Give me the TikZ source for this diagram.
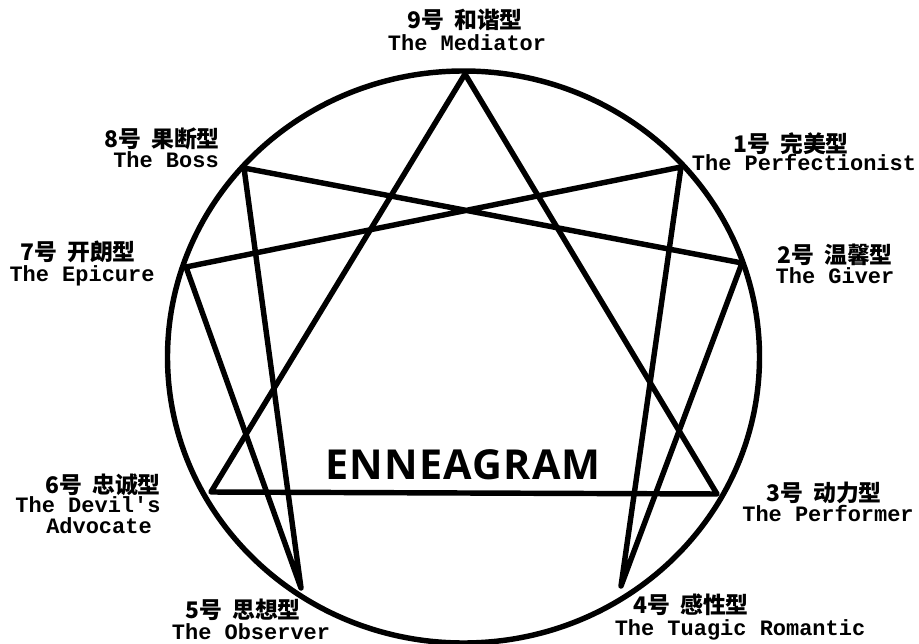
\documentclass[tikz,border=0pt]{standalone}
\usepackage{fontspec}
\setmonofont{Liberation Mono}
\setsansfont{Open Sans}
\newfontfamily\cjkfont{Noto Sans CJK SC}
\newfontfamily\judulfont{Open Sans}[LetterSpace=3]
\tikzset{
  garis/.style={line width=3.1pt, line join=round, line cap=round},
  tipe/.style={font=\cjkfont\bfseries\fontsize{13}{15}\selectfont, inner sep=0pt, text height=10.5pt, text depth=1.5pt},
  nama/.style={font=\ttfamily\bfseries\fontsize{12.5}{14}\selectfont, inner sep=0pt, text height=8pt, text depth=2pt},
}
\newcommand{\sela}{\hspace{0.45em}}
\begin{document}
\begin{tikzpicture}
  \useasboundingbox (0,0) rectangle (18.38,-12.88);
  % lingkaran
  \coordinate (O) at (9.27,-7.14);
  \draw[garis] (O) ellipse (5.92 and 5.72);
  % titik tipe 1..9
  \coordinate (T1) at (13.62,-3.34);
  \coordinate (T2) at (14.84,-5.26);
  \coordinate (T3) at (14.34,-9.88);
  \coordinate (T4) at (12.42,-11.72);
  \coordinate (T5) at (6.02,-11.76);
  \coordinate (T6) at (4.22,-9.84);
  \coordinate (T7) at (3.72,-5.34);
  \coordinate (T8) at (4.88,-3.36);
  \coordinate (T9) at (9.30,-1.48);
  % segitiga 9-3-6
  \draw[garis] (T9) -- (T3) -- (T6) -- cycle;
  % heksad 1-4-2-8-5-7
  \draw[garis] (T1) -- (T4) -- (T2) -- (T8) -- (T5) -- (T7) -- cycle;
  % label
  \node[tipe] (L9) at (9.30,-0.42) {9号\sela 和谐型};
  \node[nama] (E9) at (9.34,-0.90) {The Mediator};
  \node[tipe] (L8) at (3.24,-2.80) {8号\sela 果断型};
  \node[nama] (E8) at (3.32,-3.24) {The Boss};
  \node[tipe] (L1) at (15.82,-2.90) {1号\sela 完美型};
  \node[nama] (E1) at (16.08,-3.30) {The Perfectionist};
  \node[tipe] (L7) at (1.56,-5.06) {7号\sela 开朗型};
  \node[nama] (E7) at (1.64,-5.52) {The Epicure};
  \node[tipe] (L2) at (16.70,-5.12) {2号\sela 温馨型};
  \node[nama] (E2) at (16.70,-5.56) {The Giver};
  \node[tipe] (L6) at (2.06,-9.72) {6号\sela 忠诚型};
  \node[nama] (E6) at (1.76,-10.14) {The Devil's};
  \node[nama] (F6) at (1.98,-10.56) {Advocate};
  \node[tipe] (L3) at (16.48,-9.88) {3号\sela 动力型};
  \node[nama] (E3) at (16.56,-10.32) {The Performer};
  \node[tipe] (L5) at (4.86,-12.22) {5号\sela 思想型};
  \node[nama] (E5) at (5.02,-12.68) {The Observer};
  \node[tipe] (L4) at (13.82,-12.12) {4号\sela 感性型};
  \node[nama] (E4) at (14.80,-12.60) {The Tuagic Romantic};
  % judul
  \node[font=\judulfont\bfseries\fontsize{23.5}{27}\selectfont] (judul) at (9.26,-9.30) {ENNEAGRAM};
\end{tikzpicture}
\end{document}
